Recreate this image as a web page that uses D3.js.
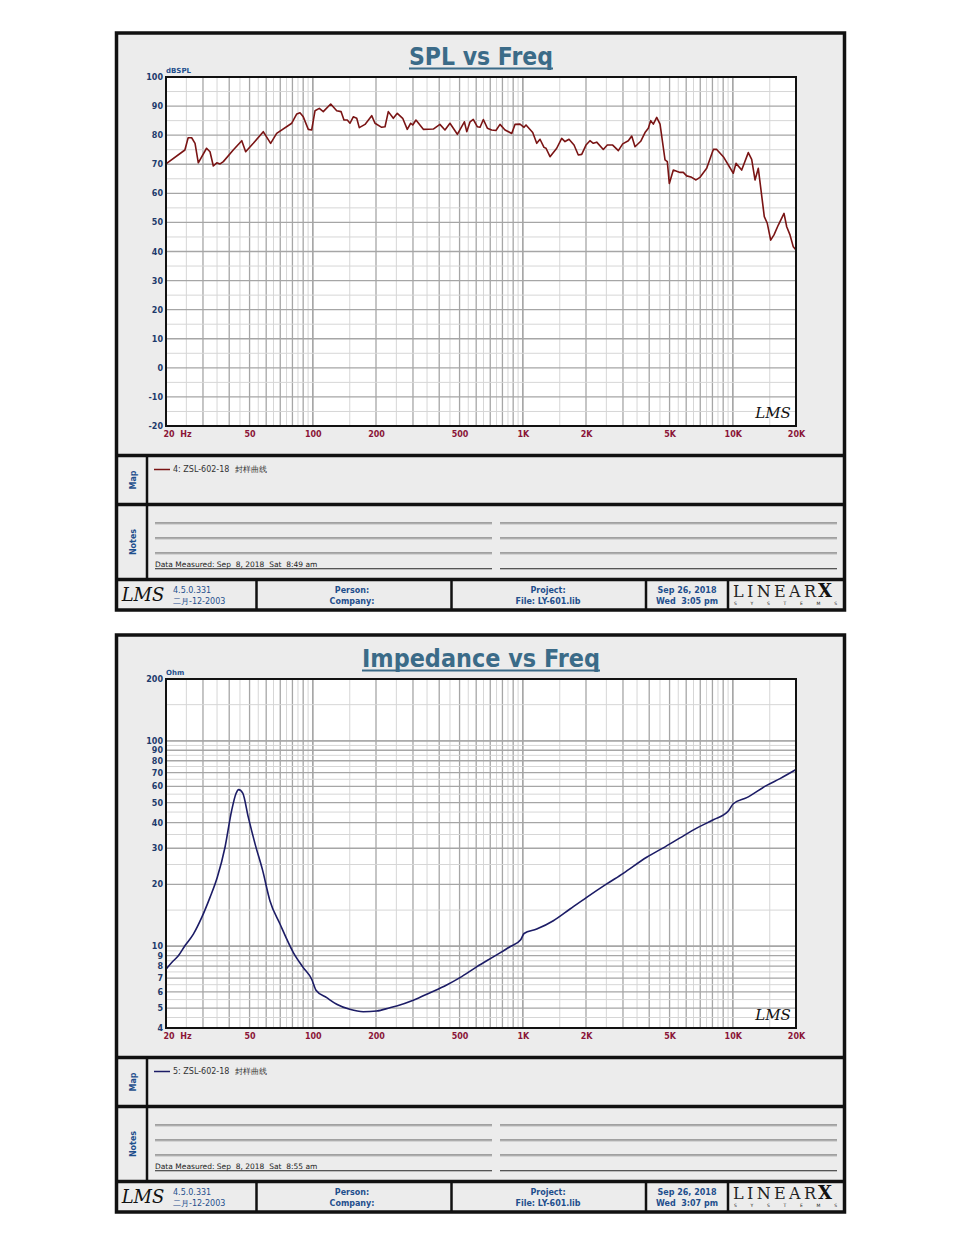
<!DOCTYPE html>
<meta charset="utf-8">
<style>
	body { margin: 0; background: #fff; }
	svg { display: block; font-family: "DejaVu Sans", Verdana, sans-serif; }
	text { white-space: pre; }
	.ylab text, .xlab text { font-weight: bold; font-size: 8px; }
	.ylab text { fill: #1d3a6b; }
	.xlab text { fill: #8a1538; }
	.small { font-size: 8px; }
	.blue { fill: #1f4f8c; }
</style>
<body>
	<svg id="chart"></svg>
</body>
<script src="https://cdnjs.cloudflare.com/ajax/libs/d3/7.8.5/d3.min.js"></script>
<script>

	// frequency axis (shared)
	var freqTicks = [20, 50, 100, 200, 500, 1000, 2000, 5000, 10000, 20000];
	var freqTickLabels = ["20  Hz", "50", "100", "200", "500", "1K", "2K", "5K", "10K", "20K"];

	// SPL curve
	var splFreq = [20, 24.6, 25.5, 26.5, 27.5, 28.5, 31.2, 32.4, 33.6, 34.9, 36.2, 37.5, 41.8, 45.9, 47.9,
		52.1, 58.1, 63, 67.3, 79.4, 83.9, 86.9, 90.1, 95.2, 98.8, 102.5, 107.4, 112.2, 121.7, 130,
		136.3, 140.8, 146, 150.4, 155.9, 161.9, 166.5, 177.3, 190.8, 197.8, 212.9, 220.8, 228.9, 241.8, 252.6,
		268, 281.8, 292.6, 299.1, 310, 336, 375, 403, 426, 450, 488, 527, 541, 561, 581,
		607, 626, 649, 678, 711, 745, 779, 823, 886, 918, 970, 1014, 1036, 1115, 1165,
		1208, 1262, 1290, 1348, 1451, 1532, 1589, 1660, 1754, 1838, 1908, 2000, 2089, 2166, 2249,
		2418, 2526, 2680, 2851, 2991, 3181, 3302, 3424, 3644, 3820, 3961, 4066, 4184, 4343, 4504,
		4757, 4878, 4986, 5210, 5606, 5812, 6033, 6373, 6682, 6982, 7512, 8079, 8386, 9014, 10057,
		10360, 11026, 11855, 12303, 12760, 13230, 14126, 14598, 15152, 15713, 16472, 17538, 18062, 18729, 19416, 20000];
	var splDb = [70.1, 74.9, 79.1, 79.1, 77.2, 70.5, 75.5, 74.3, 69.4, 70.5, 70.1, 70.9, 74.9, 78.1, 74.3,
		77.2, 81.2, 77.2, 80.6, 84.1, 87.3, 87.7, 86.3, 82.0, 81.8, 88.4, 89.2, 88.1, 90.7, 88.4,
		88.1, 85.2, 85.2, 84.1, 86.3, 85.8, 82.6, 83.7, 86.7, 84.1, 82.7, 82.9, 88.1, 85.8, 87.5,
		85.8, 82.0, 84.1, 83.5, 85.2, 82.0, 82.1, 83.7, 81.8, 84.1, 80.3, 84.6, 81.2, 84.6, 85.4,
		82.9, 82.7, 85.4, 82.4, 81.8, 81.6, 83.7, 81.8, 80.6, 83.7, 83.8, 82.7, 83.5, 80.9, 77.2,
		78.6, 75.8, 75.5, 72.6, 75.5, 78.9, 77.8, 78.6, 76.6, 73.2, 73.4, 76.6, 78.1, 77.2, 77.6,
		75.1, 76.6, 76.6, 74.7, 77.0, 78.1, 79.7, 76.0, 77.9, 80.9, 82.4, 85.0, 83.8, 86.1, 83.8,
		71.5, 70.9, 63.4, 68.0, 67.2, 67.2, 66.0, 65.5, 64.6, 65.5, 68.6, 75.1, 75.1, 72.6, 66.9,
		70.3, 68.0, 74.0, 71.7, 64.6, 68.6, 52.0, 49.7, 43.9, 45.7, 49.1, 53.1, 48.5, 45.7, 41.6, 40.5];
	var splTicks = [100, 90, 80, 70, 60, 50, 40, 30, 20, 10, 0, -10, -20];

	// impedance curve
	var impFreq = [20, 21.3, 22.9, 24.6, 27, 29.6, 32.4, 35.1, 38.2, 41.1, 43.1, 44.4, 46.4, 49.3, 53.1,
		57.7, 62.5, 69.8, 80.8, 90.1, 98.8, 103.6, 116.5, 130, 150, 174, 201.5, 233, 251, 301,
		362, 434, 502, 603, 724, 869, 977, 1014, 1165, 1398, 1678, 2015, 2510, 3010, 3890,
		4668, 5606, 6732, 8079, 9523, 10057, 11652, 14505, 16780, 20000];
	var impOhm = [7.73, 8.34, 8.98, 10.05, 11.46, 13.82, 17.3, 21.67, 30.35, 45.9, 55.4, 57.9, 55.7, 42.5, 31.5,
		23.4, 16.67, 12.83, 9.32, 7.87, 6.91, 6.11, 5.62, 5.22, 4.93, 4.8, 4.84, 5.02, 5.12, 5.46,
		5.94, 6.48, 7.04, 7.94, 8.88, 9.94, 10.75, 11.54, 12.12, 13.31, 15.18, 17.3, 20.11, 22.65, 27.12,
		30.14, 33.7, 37.6, 41.3, 45.5, 49.4, 52.9, 60.7, 65.5, 72.5];
	var impTicks = [200, 100, 90, 80, 70, 60, 50, 40, 30, 20, 10, 9, 8, 7, 6, 5, 4];

	var svg = d3.select("#chart").attr("width", 960).attr("height", 1240);

	// grid positions: every half step inside a decade, whole steps darker
	function logGrid(lo, hi) {
		var out = [];
		for (var d = 1; d <= 10000; d *= 10) {
			for (var k = 1; k <= 10; k += 0.5) {
				var v = +(k * d).toPrecision(6);
				if (v >= lo && v <= hi) out.push({ v: v, major: k % 1 === 0 });
			}
		}
		return out;
	}

	var x = d3.scaleLog().domain([20, 20000]).range([166, 796]);

	var panels = [
		{
			top: 0, title: "SPL vs Freq", titleLen: 144, unit: "dBSPL",
			y: d3.scaleLinear().domain([-20, 100]), ticks: splTicks,
			hgrid: d3.range(-20, 101, 5).map(function(v) { return { v: v, major: v % 10 === 0 }; }),
			freq: splFreq, vals: splDb, color: "#7a1414", curve: d3.curveLinear,
			legend: "4: ZSL-602-18  封样曲线",
			measured: "Data Measured: Sep  8, 2018  Sat  8:49 am",
			time: "Wed  3:05 pm"
		},
		{
			top: 602, title: "Impedance vs Freq", titleLen: 238, unit: "Ohm",
			y: d3.scaleLog().domain([4, 200]), ticks: impTicks,
			hgrid: logGrid(4, 200),
			freq: impFreq, vals: impOhm, color: "#1c1c66", curve: d3.curveMonotoneX,
			legend: "5: ZSL-602-18  封样曲线",
			measured: "Data Measured: Sep  8, 2018  Sat  8:55 am",
			time: "Wed  3:07 pm"
		}
	];

	panels.forEach(drawPanel);

	function drawPanel(p) {
		var g = svg.append("g").attr("transform", "translate(0," + p.top + ")");
		var y = p.y.range([426, 77]);

		// background
		g.append("rect").attr("x", 116.5).attr("y", 33).attr("width", 728).attr("height", 577)
			.attr("fill", "#ececec");

		// title
		g.append("text").attr("x", 481).attr("y", 65).attr("text-anchor", "middle")
			.attr("textLength", p.titleLen).attr("lengthAdjust", "spacingAndGlyphs")
			.style("font-size", "24px").style("font-weight", "bold").attr("fill", "#3b6b88")
			.text(p.title);
		g.append("line").attr("x1", 481 - p.titleLen / 2).attr("x2", 481 + p.titleLen / 2)
			.attr("y1", 68.5).attr("y2", 68.5).attr("stroke", "#3b6b88").attr("stroke-width", 2);

		// plot area
		g.append("rect").attr("x", 166).attr("y", 77).attr("width", 630).attr("height", 349)
			.attr("fill", "#fff");

		var grid = g.append("g");
		var vgrid = logGrid(20, 20000);
		grid.selectAll(".vg").data(vgrid).enter().append("line")
			.attr("x1", function(d) { return x(d.v); }).attr("x2", function(d) { return x(d.v); })
			.attr("y1", 77).attr("y2", 426)
			.attr("stroke", function(d) { return d.major ? "#a6a6a6" : "#d6d6d6"; })
			.attr("stroke-width", function(d) { return d.major ? 1.3 : 1; });
		grid.selectAll(".hg").data(p.hgrid).enter().append("line")
			.attr("y1", function(d) { return y(d.v); }).attr("y2", function(d) { return y(d.v); })
			.attr("x1", 166).attr("x2", 796)
			.attr("stroke", function(d) { return d.major ? "#a6a6a6" : "#d6d6d6"; })
			.attr("stroke-width", function(d) { return d.major ? 1.3 : 1; });

		// curve
		var pts = p.freq.map(function(f, i) { return [f, p.vals[i]]; });
		var line = d3.line().x(function(d) { return x(d[0]); }).y(function(d) { return y(d[1]); }).curve(p.curve);
		g.append("path").datum(pts).attr("d", line).attr("fill", "none")
			.attr("stroke", p.color).attr("stroke-width", 1.6).attr("stroke-linejoin", "round");

		// plot frame
		g.append("rect").attr("x", 166).attr("y", 77).attr("width", 630).attr("height", 349)
			.attr("fill", "none").attr("stroke", "#111").attr("stroke-width", 2);

		// axes
		var ya = g.append("g").attr("class", "ylab").attr("transform", "translate(166,0)")
			.call(d3.axisLeft(y).tickValues(p.ticks).tickSize(0).tickPadding(3)
				.tickFormat(function(d) { return String(d); }));
		ya.select(".domain").remove();
		ya.attr("font-family", null).attr("font-size", null);

		var xa = g.append("g").attr("class", "xlab").attr("transform", "translate(0,426)")
			.call(d3.axisBottom(x).tickValues(freqTicks).tickSize(0).tickPadding(5)
				.tickFormat(function(d, i) { return freqTickLabels[i]; }));
		xa.select(".domain").remove();
		xa.attr("font-family", null).attr("font-size", null);
		xa.selectAll(".tick").filter(function(d, i) { return i === 0; }).select("text")
			.attr("text-anchor", "start").attr("x", -3);

		g.append("text").attr("x", 166).attr("y", 73).attr("class", "blue")
			.style("font-size", "7px").style("font-weight", "bold").text(p.unit);

		// LMS mark in the plot
		g.append("text").attr("x", 773).attr("y", 418).attr("text-anchor", "middle")
			.style("font-family", "'DejaVu Serif', serif").style("font-style", "italic")
			.style("font-size", "15px").attr("fill", "#111").text("LMS");

		// map strip
		g.append("line").attr("x1", 154).attr("x2", 170).attr("y1", 469.5).attr("y2", 469.5)
			.attr("stroke", p.color).attr("stroke-width", 1.5);
		g.append("text").attr("x", 173).attr("y", 472).attr("class", "small").attr("fill", "#333")
			.text(p.legend);
		g.append("text").attr("transform", "translate(136,480) rotate(-90)").attr("text-anchor", "middle")
			.attr("class", "small blue").style("font-weight", "bold").text("Map");
		g.append("text").attr("transform", "translate(136,542) rotate(-90)").attr("text-anchor", "middle")
			.attr("class", "small blue").style("font-weight", "bold").text("Notes");

		// notes lines
		[523, 538, 553, 568.5].forEach(function(ly) {
			[[155, 492], [500, 837]].forEach(function(s) {
				g.append("line").attr("x1", s[0]).attr("x2", s[1]).attr("y1", ly).attr("y2", ly)
					.attr("stroke", "#555").attr("stroke-width", 1);
				g.append("line").attr("x1", s[0]).attr("x2", s[1]).attr("y1", ly + 1).attr("y2", ly + 1)
					.attr("stroke", "#bbb").attr("stroke-width", 1);
			});
		});
		g.append("text").attr("x", 155).attr("y", 566.5).attr("fill", "#222")
			.style("font-size", "7.5px").text(p.measured);

		// footer
		g.append("text").attr("x", 143).attr("y", 601).attr("text-anchor", "middle")
			.style("font-family", "'DejaVu Serif', serif").style("font-style", "italic")
			.style("font-size", "18px").attr("fill", "#111").text("LMS");
		var foot = [
			[173, "start", "4.5.0.331", "二月-12-2003", "normal"],
			[352, "middle", "Person:", "Company:", "bold"],
			[548, "middle", "Project:", "File: LY-601.lib", "bold"],
			[687, "middle", "Sep 26, 2018", p.time, "bold"]
		];
		foot.forEach(function(f) {
			g.append("text").attr("x", f[0]).attr("y", 593).attr("text-anchor", f[1])
				.attr("class", "small blue").style("font-weight", f[4]).text(f[2]);
			g.append("text").attr("x", f[0]).attr("y", 604).attr("text-anchor", f[1])
				.attr("class", "small blue").style("font-weight", f[4]).text(f[3]);
		});
		g.append("text").attr("x", 733).attr("y", 597).attr("textLength", 83).attr("lengthAdjust", "spacing")
			.style("font-family", "'DejaVu Serif', serif").style("font-size", "16px").style("font-weight", "200")
			.attr("fill", "#222").text("LINEAR");
		g.append("text").attr("x", 818).attr("y", 597)
			.style("font-family", "'DejaVu Serif', serif").style("font-size", "18px").style("font-weight", "bold")
			.attr("fill", "#111").text("X");
		g.append("text").attr("x", 734).attr("y", 605).attr("textLength", 103).attr("lengthAdjust", "spacing")
			.style("font-size", "4.5px").attr("fill", "#222").text("SYSTEMS");

		// frame and separators
		var frame = g.append("g").attr("stroke", "#111").attr("fill", "none");
		frame.append("rect").attr("x", 116.5).attr("y", 33).attr("width", 728).attr("height", 577)
			.attr("stroke-width", 3.5);
		[455.5, 504.5, 579.5].forEach(function(ly) {
			frame.append("line").attr("x1", 116.5).attr("x2", 844.5).attr("y1", ly).attr("y2", ly)
				.attr("stroke-width", 3.5);
		});
		frame.append("line").attr("x1", 147).attr("x2", 147).attr("y1", 455.5).attr("y2", 579.5)
			.attr("stroke-width", 2.5);
		[256.5, 451.5, 646, 728].forEach(function(lx) {
			frame.append("line").attr("x1", lx).attr("x2", lx).attr("y1", 579.5).attr("y2", 610)
				.attr("stroke-width", 2.5);
		});
	}

</script>
